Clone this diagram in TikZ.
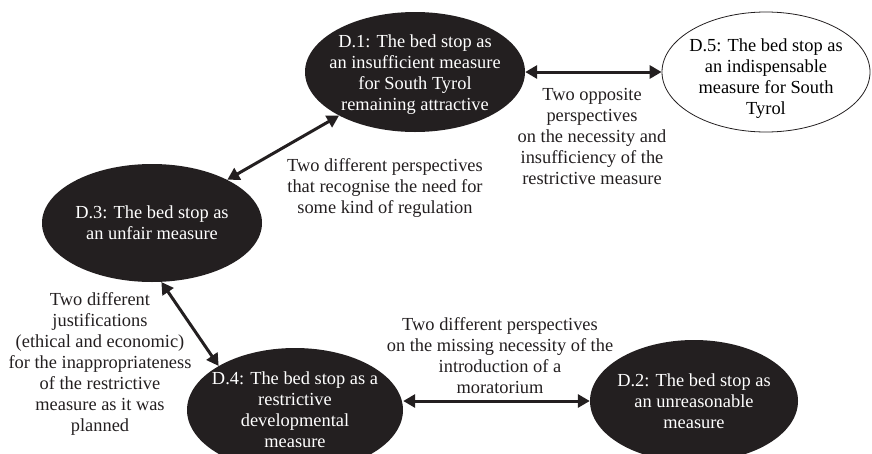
\documentclass[tikz,border=0pt]{standalone}
\usepackage{fontspec}
\setmainfont{Liberation Serif}
\usetikzlibrary{arrows.meta,shapes.geometric}
\definecolor{inkblack}{RGB}{35,31,32}

\begin{document}
\begin{tikzpicture}[
  x=1pt, y=-1pt,
  font=\fontsize{18.4}{21}\selectfont,
  view/.style={ellipse, fill=inkblack, inner sep=0pt},
  openview/.style={ellipse, draw=inkblack, line width=0.8pt, fill=white, inner sep=0pt},
  viewtext/.style={align=center, inner sep=0pt},
  note/.style={align=center, inner sep=0pt, text=inkblack},
  arr/.style={{Triangle[length=12pt,width=13pt]}-{Triangle[length=12pt,width=13pt]}, line width=3pt, draw=inkblack}
]
\clip (0,0) rectangle (872,453);

% discourses
\node[view, minimum width=220pt, minimum height=120pt,
  label={[viewtext, text=white, yshift=-3pt]center:{D.1: The bed stop as\\an insufficient measure\\for South Tyrol\\remaining attractive}}] (d1) at (415,72) {};
\node[openview, minimum width=208pt, minimum height=120pt,
  label={[viewtext, yshift=-7pt]center:{D.5: The bed stop as\\an indispensable\\measure for South\\Tyrol}}] (d5) at (766,72) {};
\node[view, minimum width=220pt, minimum height=118pt,
  label={[viewtext, text=white]center:{D.3: The bed stop as\\an unfair measure}}] (d3) at (152,223) {};
\node[view, minimum width=216pt, minimum height=124pt,
  label={[viewtext, text=white]center:{D.4: The bed stop as a\\restrictive\\developmental\\measure}}] (d4) at (295,410) {};
\node[view, minimum width=208pt, minimum height=122pt,
  label={[viewtext, text=white]center:{D.2: The bed stop as\\an unreasonable\\measure}}] (d2) at (694,401) {};

% relations
\draw[arr] (d1) -- (d5);
\draw[arr] (d3) -- (d1);
\draw[arr] (d3.-81) -- (d4.150);
\draw[arr] (d4.east |- d2.west) -- (d2.west);

\node[note] (n15) at (592,136) {Two opposite\\perspectives\\on the necessity and\\insufficiency of the\\restrictive measure};
\node[note] (n31) at (385,188) {Two different perspectives\\that recognise the need for\\some kind of regulation};
\node[note] (n34) at (100,364) {Two different\\justifications\\(ethical and economic)\\for the inappropriateness\\of the restrictive\\measure as it was\\planned};
\node[note] (n42) at (500,356) {Two different perspectives\\on the missing necessity of the\\introduction of a\\moratorium};
\end{tikzpicture}
\end{document}
